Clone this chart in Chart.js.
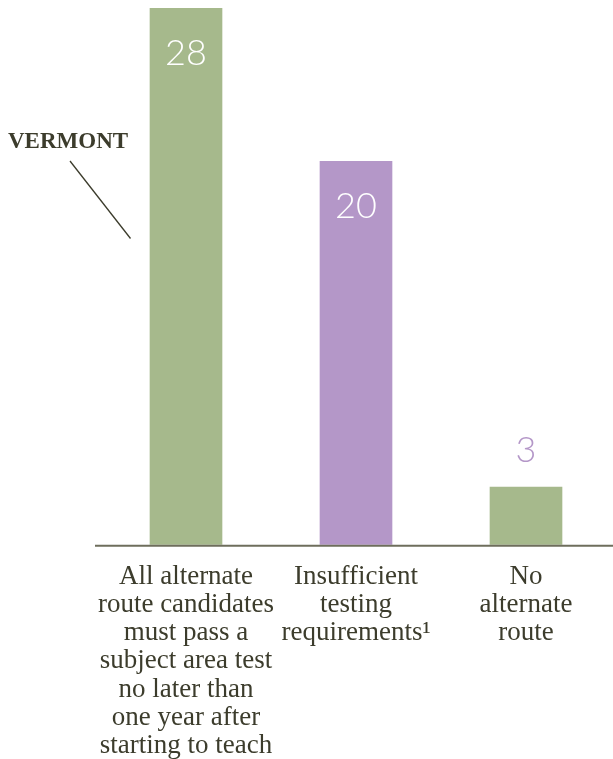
<!DOCTYPE html>
<html>
<head>
<meta charset="utf-8">
<script src="https://cdn.jsdelivr.net/npm/chart.js@4/dist/chart.umd.min.js"></script>
<style>
  html, body { margin: 0; padding: 0; background: #fff; }
  #wrap { width: 613px; height: 759px; position: relative; }
</style>
</head>
<body>
<div id="wrap"><canvas id="bars"></canvas></div>
<script>
// data
const categories = [
  ["All alternate", "route candidates", "must pass a", "subject area test", "no later than", "one year after", "starting to teach"],
  ["Insufficient", "testing", "requirements\u00B9"],
  ["No", "alternate", "route"]
];
const counts = [28, 20, 3];
const barColors = ["#a6b98c", "#b497c8", "#a6b98c"];
const valueColors = ["#ffffff", "#ffffff", "#b497c8"];
const valueInside = [true, true, false];

const textColor = "#3c3c2c";

// value numbers on / above bars
const valueLabels = {
  id: "valueLabels",
  afterDatasetsDraw(chart) {
    const ctx = chart.ctx;
    const meta = chart.getDatasetMeta(0);
    ctx.save();
    ctx.font = "300 36px Lato, 'Open Sans', sans-serif";
    ctx.textAlign = "center";
    ctx.textBaseline = "middle";
    meta.data.forEach((bar, i) => {
      ctx.fillStyle = valueColors[i];
      const y = valueInside[i] ? bar.y + 45 : bar.y - 37;
      ctx.fillText(String(counts[i]), bar.x, y);
    });
    ctx.restore();
  }
};

// baseline + Vermont callout
const extras = {
  id: "extras",
  afterDraw(chart) {
    const ctx = chart.ctx;
    const area = chart.chartArea;
    ctx.save();
    ctx.strokeStyle = "#6e6e5c";
    ctx.lineWidth = 2;
    ctx.beginPath();
    ctx.moveTo(95, area.bottom + 1);
    ctx.lineTo(chart.width, area.bottom + 1);
    ctx.stroke();

    ctx.fillStyle = textColor;
    ctx.font = "bold 23px 'Liberation Serif', serif";
    ctx.textAlign = "left";
    ctx.textBaseline = "alphabetic";
    ctx.fillText("VERMONT", 8, 148);

    ctx.strokeStyle = "#3c3c2c";
    ctx.lineWidth = 1.3;
    ctx.beginPath();
    ctx.moveTo(70, 161);
    ctx.lineTo(130.5, 238.5);
    ctx.stroke();
    ctx.restore();
  }
};

new Chart(document.getElementById("bars"), {
  type: "bar",
  data: {
    labels: categories,
    datasets: [{
      data: counts,
      backgroundColor: barColors,
      barThickness: 72,
      borderWidth: 0
    }]
  },
  options: {
    responsive: true,
    maintainAspectRatio: false,
    animation: false,
    layout: { padding: { left: 101, right: 2, top: 8, bottom: -11 } },
    plugins: {
      legend: { display: false },
      tooltip: { enabled: false }
    },
    scales: {
      x: {
        grid: { display: false },
        border: { display: false },
        ticks: {
          color: textColor,
          padding: 10,
          maxRotation: 0,
          autoSkip: false,
          font: { family: "'Liberation Serif', serif", size: 27, lineHeight: 1.044 }
        }
      },
      y: {
        display: false,
        min: 0,
        max: 28
      }
    }
  },
  plugins: [valueLabels, extras]
});
</script>
</body>
</html>
